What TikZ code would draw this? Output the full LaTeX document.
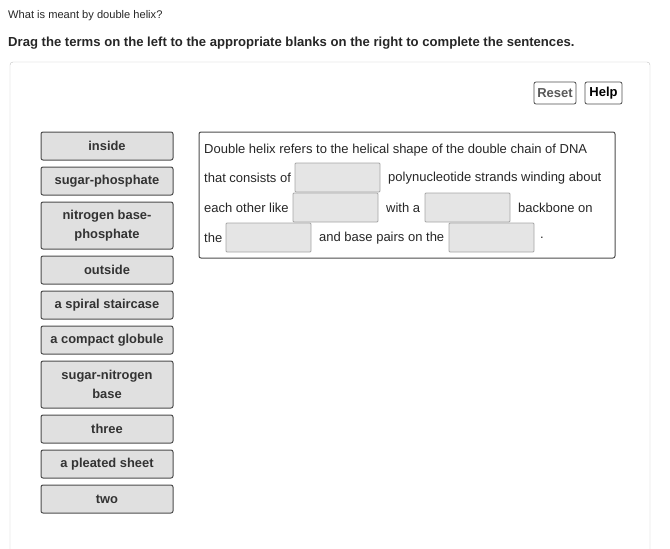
\documentclass[tikz,border=0pt]{standalone}
\usepackage{fontspec}
\setmainfont{Liberation Sans}
\begin{document}
\begin{tikzpicture}[x=1pt,y=-1pt,
  every node/.style={font=\fontsize{13}{15}\selectfont},
  term/.style={draw=black!70,fill=black!12,rounded corners=2pt,line width=1pt,minimum width=132pt,inner sep=0pt,font=\fontsize{12.9}{19}\selectfont\bfseries,text=black!80,align=center},
  blank/.style={draw=black!35,fill=black!10,rounded corners=1pt,line width=0.8pt},
  txt/.style={anchor=west,inner sep=0pt,text=black!85},
  btn/.style={draw=black!70,rounded corners=2pt,line width=0.8pt,inner sep=0pt,font=\fontsize{13}{15}\selectfont\bfseries}]
\useasboundingbox (0,0) rectangle (670,549);
\node[txt,font=\fontsize{11.1}{13}\selectfont] (q) at (8,16) {What is meant by double helix?};
\node[txt,font=\fontsize{13.1}{15}\selectfont\bfseries] (ins) at (8,43) {Drag the terms on the left to the appropriate blanks on the right to complete the sentences.};
\draw[draw=black!25,rounded corners=3pt] (10,600) -- (10,62) -- (650,62) -- (650,600);
\node[btn,minimum width=42pt,minimum height=22pt,text=black!65] (reset) at (555,93) {Reset};
\node[btn,minimum width=37pt,minimum height=22pt] (help) at (603.5,93) {Help};
\node[term,minimum height=28pt] (t1) at (107,146) {inside};
\node[term,minimum height=28pt] (t2) at (107,181) {sugar-phosphate};
\node[term,minimum height=47pt] (t3) at (107,225.5) {nitrogen base-\\phosphate};
\node[term,minimum height=28pt] (t4) at (107,270) {outside};
\node[term,minimum height=28pt] (t5) at (107,305) {a spiral staircase};
\node[term,minimum height=28pt] (t6) at (107,340) {a compact globule};
\node[term,minimum height=47pt] (t7) at (107,384.5) {sugar-nitrogen\\base};
\node[term,minimum height=28pt] (t8) at (107,429) {three};
\node[term,minimum height=28pt] (t9) at (107,464) {a pleated sheet};
\node[term,minimum height=28pt] (t10) at (107,499) {two};
\draw[draw=black!70,line width=1pt,rounded corners=2pt] (199,132) rectangle (615,258);
\node[txt] (l1) at (204,150) {Double helix refers to the helical shape of the double chain of DNA};
\node[txt] (l2) at (204,178) {that consists of};
\draw[blank] (295,163) rectangle (380,192);
\node[txt] (l2b) at (388,178) {polynucleotide strands winding about};
\node[txt] (l3) at (204,208) {each other like};
\draw[blank] (293,193) rectangle (378,222);
\node[txt] (l3b) at (386,208) {with a};
\draw[blank] (425,193) rectangle (510,222);
\node[txt] (l3c) at (518,208) {backbone on};
\node[txt] (l4) at (204,238) {the};
\draw[blank] (226,223) rectangle (311,252);
\node[txt] (l4b) at (319,238) {and base pairs on the};
\draw[blank] (449,223) rectangle (534,252);
\node[txt] (l4c) at (540,238) {.};
\end{tikzpicture}
\end{document}
